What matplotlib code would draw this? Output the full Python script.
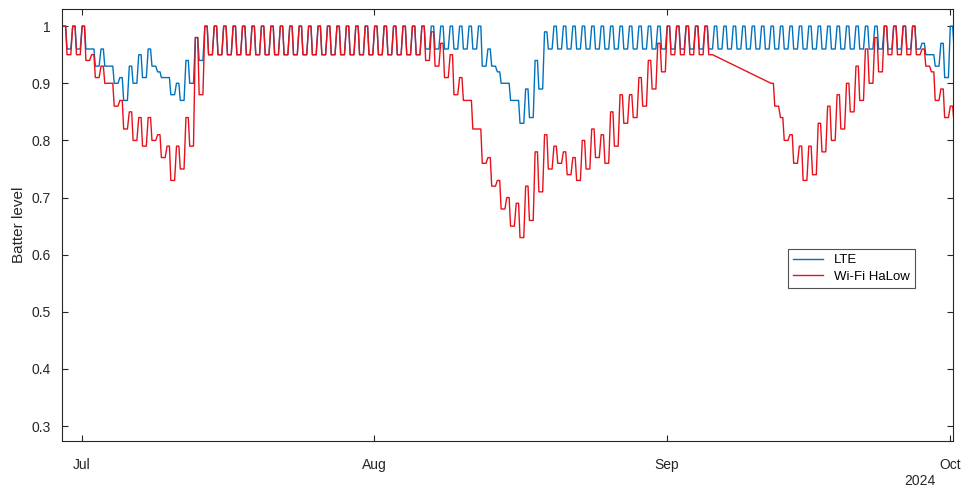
import numpy as np
import matplotlib
matplotlib.use("Agg")
import matplotlib.pyplot as plt
import matplotlib.dates as mdates
from datetime import datetime, timedelta

plt.rcParams['font.family'] = ['Liberation Sans', 'DejaVu Sans']

start = datetime(2024, 6, 29)
# daily high / low (None = no data), one entry per day from Jun 29 to Oct 1
halow_hi = [1.0, 1.0, 1.0, 0.95, 0.93, 0.90, 0.87, 0.85, 0.84, 0.84, 0.81, 0.79, 0.79, 0.84, 0.98] + \
           [1.0] * 23 + \
           [1.0, 0.99, 0.97, 0.95, 0.91, 0.87, 0.82, 0.77, 0.73, 0.70, 0.69, 0.72, 0.78, 0.81, 0.79, 0.78, 0.77,
            0.80, 0.82, 0.81, 0.85, 0.88, 0.88, 0.91, 0.94, 0.97, 1.0, 1.0, 1.0, 1.0, 1.0,
            None, None, None, None, None, None,
            0.90, 0.84, 0.81, 0.79, 0.79, 0.83, 0.86, 0.88, 0.90, 0.93, 0.96, 0.98, 1.0, 1.0, 1.0, 1.0,
            0.96, 0.92, 0.89, 0.86]
halow_lo = [0.95, 0.95, 0.94, 0.91, 0.90, 0.86, 0.82, 0.80, 0.79, 0.80, 0.77, 0.73, 0.75, 0.79, 0.88] + \
           [0.95] * 23 + \
           [0.94, 0.93, 0.91, 0.88, 0.87, 0.82, 0.76, 0.72, 0.68, 0.65, 0.63, 0.66, 0.71, 0.75, 0.76, 0.74, 0.73,
            0.75, 0.77, 0.76, 0.79, 0.83, 0.84, 0.86, 0.89, 0.92, 0.95, 0.95, 0.95, 0.95, 0.95,
            None, None, None, None, None, None,
            0.86, 0.80, 0.76, 0.73, 0.74, 0.78, 0.80, 0.82, 0.85, 0.87, 0.90, 0.92, 0.95, 0.95, 0.95, 0.95,
            0.93, 0.87, 0.84, 0.83]
lte_hi = [1.0, 1.0, 1.0, 0.96, 0.96, 0.93, 0.91, 0.93, 0.95, 0.96, 0.92, 0.91, 0.90, 0.94, 0.98] + \
         [1.0] * 23 + \
         [1.0, 1.0, 1.0, 1.0, 1.0, 1.0, 1.0, 0.96, 0.92, 0.90, 0.87, 0.89, 0.94, 0.99] + \
         [1.0] * 39 + [0.97, 0.95, 0.97, 1.0]
lte_lo = [0.96, 0.96, 0.96, 0.93, 0.93, 0.90, 0.87, 0.90, 0.91, 0.93, 0.91, 0.88, 0.87, 0.90, 0.94] + \
         [0.95] * 23 + \
         [0.96, 0.96, 0.96, 0.96, 0.96, 0.96, 0.93, 0.93, 0.90, 0.87, 0.83, 0.84, 0.89, 0.96] + \
         [0.96] * 39 + [0.95, 0.93, 0.91, 0.96]


def build(hi, lo):
    t, v = [], []
    for d, (h, l) in enumerate(zip(hi, lo)):
        if h is None:
            continue
        base = start + timedelta(days=d)
        for frac, val in ((0.05, h), (0.3, h), (0.45, l), (0.85, l)):
            t.append(base + timedelta(days=frac))
            v.append(val)
    return t, v


fig = plt.figure(figsize=(9.62, 4.9), dpi=100)
ax = fig.add_axes([62/962, 1-441/490, (953-62)/962, (441-9)/490])
tl, vl = build(lte_hi, lte_lo)
tr, vr = build(halow_hi, halow_lo)
ax.plot(tl, vl, color='#0072BD', lw=1.0, label='LTE')
ax.plot(tr, vr, color='#E8101A', lw=1.0, label='Wi-Fi HaLow')

ax.set_xlim(datetime(2024, 6, 28, 22), datetime(2024, 10, 1, 8))
ax.set_ylim(0.274, 1.03)
ax.set_yticks([0.3, 0.4, 0.5, 0.6, 0.7, 0.8, 0.9, 1.0])
ax.set_yticklabels(['0.3', '0.4', '0.5', '0.6', '0.7', '0.8', '0.9', '1'])
ax.xaxis.set_major_locator(mdates.MonthLocator())
ax.xaxis.set_major_formatter(mdates.DateFormatter('%b'))
ax.tick_params(direction='in', length=4, labelsize=10, colors='#262626', top=True, right=True, pad=8)
ax.tick_params(axis='x', pad=12)
for s in ax.spines.values():
    s.set_color('#262626')
    s.set_linewidth(0.8)
ax.set_ylabel('Batter level', fontsize=11, color='#262626')
fig.text(0.94, 0.005, '2024', fontsize=10, color='#262626', ha='left', va='bottom')
leg = ax.legend(loc='upper left', bbox_to_anchor=(0.807, 0.46), fancybox=False, edgecolor='#262626',
                fontsize=9.5, handlelength=2.3, borderpad=0.4, labelspacing=0.3)
leg.get_frame().set_linewidth(0.8)
fig.savefig('out.png', dpi=100)
